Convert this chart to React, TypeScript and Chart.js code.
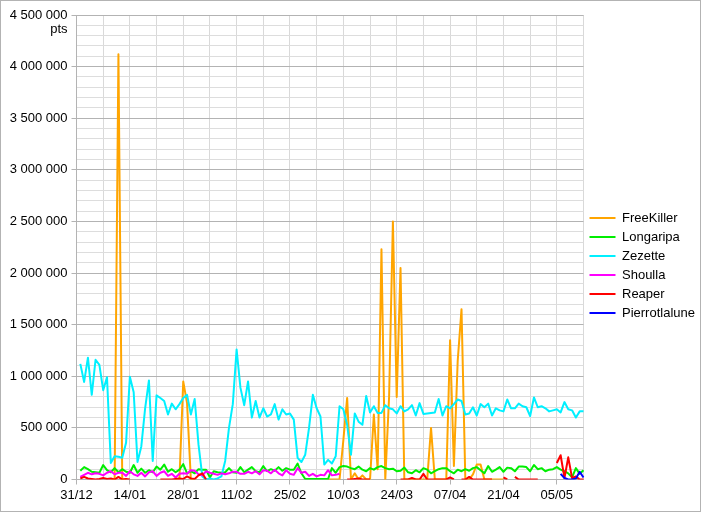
import React, { useEffect, useRef } from 'react';
import { Chart, registerables } from 'chart.js';

Chart.register(...registerables);

const _ = null;

// Categories: one per day, from 31/12 (index 0) to 12/05 (index 133), leap year
const START_YEAR = 2019;
const START_MONTH = 11; // December (0-based)
const START_DAY = 31;
const DAY_COUNT = 134;
const categories: string[] = [];
for (let i = 0; i < DAY_COUNT; i++) {
  const d = new Date(START_YEAR, START_MONTH, START_DAY + i);
  categories.push(String(d.getDate()).padStart(2, '0') + '/' + String(d.getMonth() + 1).padStart(2, '0'));
}

// Series values in thousands of points (index 0 = 31/12)
const freeKiller = [
  _,
  _, _, _, _, _, _, _, _, 0, 0,
  4120, 0, 0, _, _, _, _, _, _, _,
  _, _, _, _, _, 0, 0, 950, 740, 0,
  0, _, _, _, _, _, _, _, _, _,
  _, _, _, _, _, _, _, _, _, _,
  _, _, _, _, _, _, _, _, _, _,
  _, _, _, _, _, 0, 0, 0, 0, 380,
  790, 0, 60, 0, 40, 0, 0, 630, 100, 2230,
  0, 800, 2500, 800, 2050, 0, 0, 0, 0, 0,
  0, 0, 500, 0, 0, 0, 0, 1350, 130, 1150,
  1650, 0, 0, 50, 145, 145, 0, 0, 0, 0,
  0, 0, _, _, _, _, _, _, _, _,
  _, _, _, _, _, _, _, _, _, _,
  _, _, _,
];

const longaripa = [
  _,
  85, 120, 100, 75, 70, 65, 140, 90, 70, 110,
  70, 100, 75, 65, 140, 65, 105, 65, 90, 70,
  125, 95, 145, 75, 100, 70, 95, 150, 60, 80,
  60, 100, 95, 95, 20, 80, 70, 65, 70, 110,
  70, 65, 120, 70, 95, 120, 80, 70, 130, 80,
  100, 85, 120, 85, 110, 95, 95, 155, 60, 5,
  5, 5, 5, 5, 5, 5, 110, 65, 120, 130,
  125, 110, 100, 125, 95, 80, 110, 95, 120, 130,
  110, 100, 105, 80, 85, 115, 70, 60, 90, 70,
  110, 95, 60, 80, 100, 110, 110, 80, 60, 95,
  80, 100, 85, 110, 120, 90, 60, 130, 75, 95,
  120, 75, 115, 110, 80, 125, 125, 120, 80, 140,
  100, 110, 80, 95, 100, 120, 95, 80, 60, 20,
  110, 55, 90,
];

const zezette = [
  _,
  1120, 945, 1180, 820, 1160, 1110, 865, 990, 160, 225,
  220, 210, 355, 995, 845, 170, 320, 690, 960, 180,
  815, 790, 760, 630, 735, 680, 730, 790, 820, 630,
  780, 340, 30, 0, 10, 0, 10, 30, 180, 500,
  730, 1260, 890, 720, 950, 600, 760, 600, 690, 610,
  630, 730, 580, 680, 630, 640, 580, 210, 170, 240,
  500, 820, 690, 610, 145, 190, 155, 225, 710, 680,
  530, 240, 640, 560, 530, 810, 650, 710, 645, 645,
  720, 690, 680, 640, 710, 660, 680, 720, 620, 740,
  635, 640, 645, 650, 780, 620, 710, 690, 730, 775,
  760, 630, 640, 700, 620, 730, 700, 735, 620, 690,
  670, 660, 775, 690, 690, 735, 710, 700, 615, 795,
  700, 710, 690, 660, 670, 680, 650, 750, 680, 670,
  600, 660, 660,
];

const shoulla = [
  _,
  25, 45, 65, 50, 60, 55, 40, 65, 80, 50,
  65, 65, 35, 80, 50, 35, 65, 30, 70, 80,
  35, 65, 80, 35, 55, 20, 55, 60, 55, 90,
  85, 50, 40, 80, 65, 55, 45, 60, 50, 60,
  75, 75, 55, 55, 75, 60, 80, 50, 90, 85,
  60, 95, 60, 40, 90, 55, 45, 110, 65, 75,
  35, 55, 30, 45, 40, 90, 40, 45, 55, _,
  _, _, _, _, _, _, _, _, _, _,
  _, _, _, _, _, _, _, _, _, _,
  _, _, _, _, _, _, _, _, _, _,
  _, _, _, _, _, _, _, _, _, _,
  _, _, _, _, _, _, _, _, _, _,
  _, _, _, _, _, _, _, _, _, _,
  _, _, _,
];

const reaper = [
  _,
  10, 25, 10, 5, 0, 5, 15, 5, 10, 0,
  25, 0, 5, 0, _, _, _, _, _, _,
  _, 0, 0, 0, 0, 5, 10, 5, 30, 10,
  5, 40, 60, 0, _, _, _, _, _, _,
  _, _, _, _, _, _, _, _, _, _,
  _, _, _, _, _, _, _, _, _, _,
  _, _, _, _, _, _, _, _, _, _,
  0, 0, 5, 10, 0, 0, 0, _, _, _,
  _, _, _, _, 0, 0, 0, 15, 0, 0,
  55, 0, 0, 0, 0, 0, 0, 20, 0, _,
  0, 0, 25, 0, 0, 0, 0, 0, 0, _,
  _, 20, 0, _, 25, 0, 0, 0, 0, 0,
  0, _, _, _, _, 160, 235, 15, 215, 15,
  30, 0, 0,
];

const pierrotlalune = [
  _,
  _, _, _, _, _, _, _, _, _, _,
  _, _, _, _, _, _, _, _, _, _,
  _, _, _, _, _, _, _, _, _, _,
  _, _, _, _, _, _, _, _, _, _,
  _, _, _, _, _, _, _, _, _, _,
  _, _, _, _, _, _, _, _, _, _,
  _, _, _, _, _, _, _, _, _, _,
  _, _, _, _, _, _, _, _, _, _,
  _, _, _, _, _, _, _, _, _, _,
  _, _, _, _, _, _, _, _, _, _,
  _, _, _, _, _, _, _, _, _, _,
  _, _, _, _, _, _, _, _, _, _,
  _, _, _, _, _, _, 55, 15, 0, 0,
  10, 75, 20,
];

const seriesNames = ['FreeKiller', 'Longaripa', 'Zezette', 'Shoulla', 'Reaper', 'Pierrotlalune'];
const seriesValues = [freeKiller, longaripa, zezette, shoulla, reaper, pierrotlalune];
const seriesColors = ['#ffa500', '#00ee00', '#00f0ff', '#ff00ff', '#ff0000', '#0000ff'];

const UNIT = 1000;
const Y_MAX = 4500000;
const Y_STEP = 100000;
const Y_LABEL_STEP = 500000;
const X_GRID_EVERY = 7;
const X_LABEL_EVERY = 14;
const UNIT_LABEL = 'pts';

const FONT = '"Liberation Sans", Arial, Helvetica, sans-serif';

const fmt = (v: number) => String(Math.round(v)).replace(/\B(?=(\d{3})+(?!\d))/g, ' ');

const unitLabelPlugin = {
  id: 'unitLabel',
  afterDraw(chart: any) {
    const { ctx, chartArea } = chart;
    ctx.save();
    ctx.font = '13px ' + FONT;
    ctx.fillStyle = '#000';
    ctx.textAlign = 'right';
    ctx.textBaseline = 'middle';
    ctx.fillText(UNIT_LABEL, chartArea.left - 9, chartArea.top + 14.5);
    ctx.restore();
  },
};

export default function App() {
  const ref = useRef<HTMLCanvasElement | null>(null);

  useEffect(() => {
    document.body.style.margin = '0';
    const canvas = ref.current;
    if (!canvas) return;
    Chart.defaults.font.family = FONT;
    Chart.defaults.font.size = 13;
    Chart.defaults.color = '#000';

    const datasets = seriesNames.map((name, i) => ({
      label: name,
      data: seriesValues[i].map((v) => (v === null ? null : v * UNIT)),
      borderColor: seriesColors[i],
      backgroundColor: seriesColors[i],
      borderWidth: 2,
      pointRadius: 0,
      pointHoverRadius: 0,
      tension: 0,
      spanGaps: false,
      borderJoinStyle: 'round' as const,
      fill: false,
      order: seriesNames.length - 1 - i,
    }));

    const chart = new Chart(canvas, {
      type: 'line',
      data: { labels: categories, datasets },
      plugins: [unitLabelPlugin],
      options: {
        animation: false,
        responsive: false,
        devicePixelRatio: 1,
        events: [],
        layout: { padding: { top: 14, left: 0, right: 0, bottom: 0 } },
        plugins: {
          tooltip: { enabled: false },
          title: { display: false },
          legend: {
            display: true,
            position: 'right',
            align: 'center',
            maxWidth: 116.5,
            title: { display: true, text: '', padding: 0, font: { size: 5, lineHeight: 1 } },
            labels: {
              usePointStyle: true,
              pointStyle: 'line',
              pointStyleWidth: 26,
              boxHeight: 13,
              padding: 6,
              color: '#000',
              font: { size: 13, family: FONT },
              sort: (a: any, b: any) => a.datasetIndex - b.datasetIndex,
            },
          },
        },
        scales: {
          x: {
            type: 'category',
            offset: false,
            afterFit: (scale: any) => {
              scale.height = 31.5;
            },
            grid: {
              color: (c: any) => (c.index % X_GRID_EVERY === 0 ? '#d9d9d9' : 'rgba(0,0,0,0)'),
              tickColor: (c: any) => (c.index % X_LABEL_EVERY === 0 ? '#b3b3b3' : 'rgba(0,0,0,0)'),
              tickLength: 5,
              lineWidth: 1,
            },
            border: { display: true, color: '#b3b3b3', width: 1 },
            ticks: {
              autoSkip: false,
              maxRotation: 0,
              minRotation: 0,
              padding: 3,
              color: '#000',
              font: { size: 13, family: FONT },
              callback: (_v: any, idx: number) => (idx % X_LABEL_EVERY === 0 ? categories[idx] : ''),
            },
          },
          y: {
            type: 'linear',
            min: 0,
            max: Y_MAX,
            afterFit: (scale: any) => {
              scale.width = 75.5;
            },
            grid: {
              color: (c: any) =>
                c.tick && c.tick.value % Y_LABEL_STEP === 0 ? '#b3b3b3' : '#dddddd',
              tickColor: (c: any) =>
                c.tick && c.tick.value % Y_LABEL_STEP === 0 ? '#b3b3b3' : 'rgba(0,0,0,0)',
              tickLength: 5,
              lineWidth: 1,
            },
            border: { display: true, color: '#b3b3b3', width: 1 },
            ticks: {
              stepSize: Y_STEP,
              autoSkip: false,
              padding: 4,
              color: '#000',
              font: { size: 13, family: FONT },
              callback: (v: any) => (Number(v) % Y_LABEL_STEP === 0 ? fmt(Number(v)) : ''),
            },
          },
        },
      },
    } as any);

    return () => {
      chart.destroy();
    };
  }, []);

  return (
    <div
      style={{
        position: 'fixed',
        left: 0,
        top: 0,
        width: 701,
        height: 512,
        border: '1px solid #b3b3b3',
        boxSizing: 'border-box',
        background: '#fff',
      }}
    >
      <canvas ref={ref} width={699} height={510} style={{ display: 'block', width: 699, height: 510 }} />
    </div>
  );
}
